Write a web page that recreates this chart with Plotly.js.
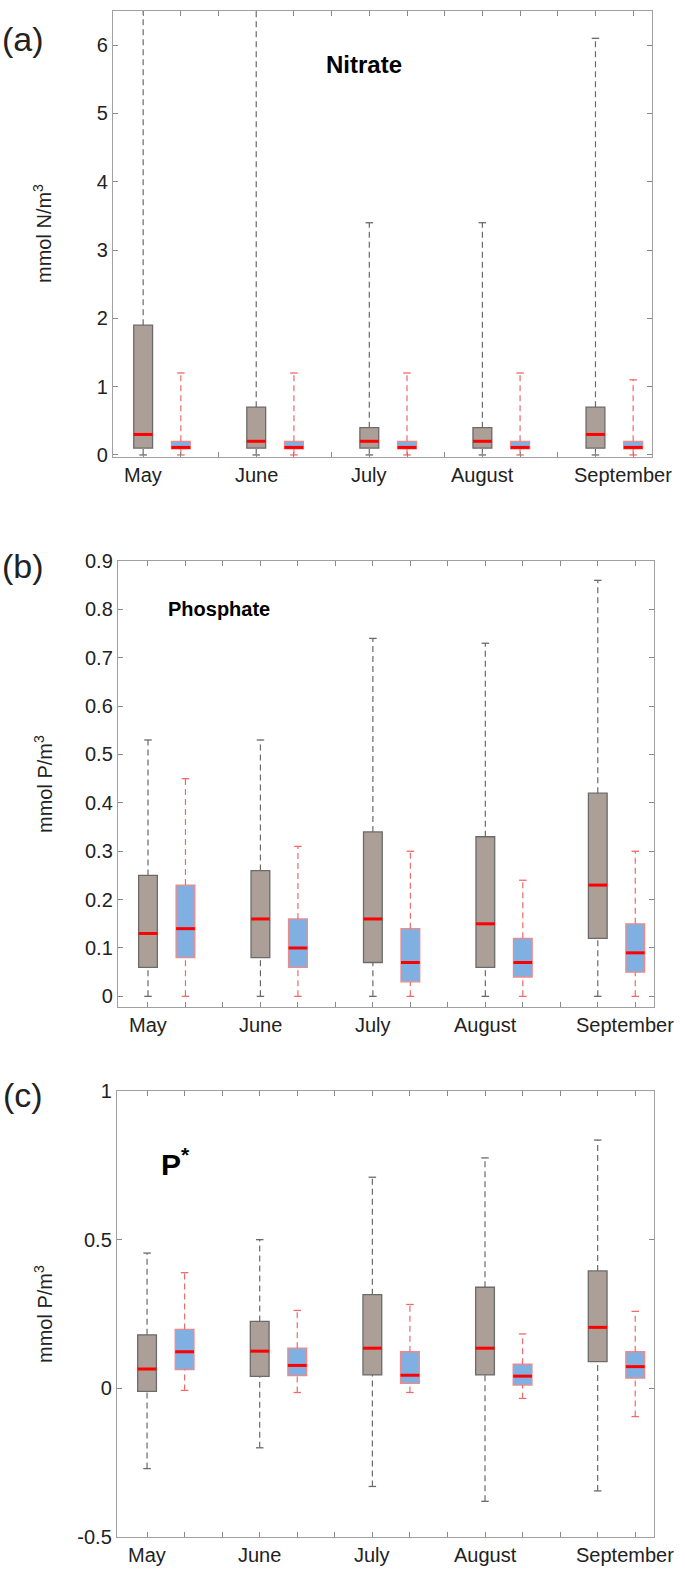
<!DOCTYPE html>
<html>
<head>
<meta charset="utf-8">
<script src="https://cdn.plot.ly/plotly-3.0.1.min.js"></script>
<style>
  html, body { margin: 0; padding: 0; background: #fff; }
  #chart { width: 685px; height: 1577px; }
</style>
</head>
<body>
<div id="chart"></div>
<script>
// months along the x axis
const months = ['May', 'June', 'July', 'August', 'September'];

// box statistics per month: [lower whisker, q1, median, q3, upper whisker]
const nitrateGrey = [[0, 0.1, 0.3, 1.9, 7.5], [0, 0.1, 0.2, 0.7, 7.0], [0, 0.1, 0.2, 0.4, 3.4], [0, 0.1, 0.2, 0.4, 3.4], [0, 0.1, 0.3, 0.7, 6.1]];
const nitrateBlue = [[0, 0.09, 0.11, 0.2, 1.2], [0, 0.09, 0.11, 0.2, 1.2], [0, 0.09, 0.11, 0.2, 1.2], [0, 0.09, 0.11, 0.2, 1.2], [0, 0.09, 0.11, 0.2, 1.1]];

const phosphateGrey = [[0, 0.06, 0.13, 0.25, 0.53], [0, 0.08, 0.16, 0.26, 0.53], [0, 0.07, 0.16, 0.34, 0.74], [0, 0.06, 0.15, 0.33, 0.73], [0, 0.12, 0.23, 0.42, 0.86]];
const phosphateBlue = [[0, 0.08, 0.14, 0.23, 0.45], [0, 0.06, 0.10, 0.16, 0.31], [0, 0.03, 0.07, 0.14, 0.30], [0, 0.04, 0.07, 0.12, 0.24], [0, 0.05, 0.09, 0.15, 0.30]];

const pstarGrey = [[-0.27, -0.01, 0.065, 0.18, 0.455], [-0.2, 0.04, 0.125, 0.225, 0.5], [-0.33, 0.045, 0.135, 0.315, 0.71], [-0.38, 0.045, 0.135, 0.34, 0.775], [-0.345, 0.09, 0.205, 0.395, 0.835]];
const pstarBlue = [[-0.007, 0.063, 0.123, 0.198, 0.389], [-0.014, 0.043, 0.077, 0.135, 0.262], [-0.014, 0.017, 0.044, 0.123, 0.282], [-0.034, 0.011, 0.041, 0.081, 0.183], [-0.095, 0.034, 0.073, 0.123, 0.259]];

// y tick labels
const nitrateTicks = [0, 1, 2, 3, 4, 5, 6];
const phosphateTicks = [0, 0.1, 0.2, 0.3, 0.4, 0.5, 0.6, 0.7, 0.8, 0.9];
const pstarTicks = [-0.5, 0, 0.5, 1];

const W = 685, H = 1577;
const FONT = 'Liberation Sans, Arial, Helvetica, sans-serif';

const greyStyle = { fill: '#ab9f98', edge: '#6b6b6b', whisker: '#6a6a6a', offset: 0 };
const blueStyle = { fill: '#80b0e2', edge: '#f08a8a', whisker: '#ef6a6a', offset: 1 };

function boxTraces (stats, style, xa, ya) {
  const pos = stats.map((s, i) => 3 * i + 1 + style.offset);
  const wx = [], wy = [], cx = [], cy = [], mx = [], my = [];
  stats.forEach((s, i) => {
    const p = pos[i];
    wx.push(p, p, null, p, p, null);
    wy.push(s[3], s[4], null, s[0], s[1], null);
    cx.push(p - 0.1, p + 0.1, null, p - 0.1, p + 0.1, null);
    cy.push(s[4], s[4], null, s[0], s[0], null);
    mx.push(p - 0.25, p + 0.25, null);
    my.push(s[2], s[2], null);
  });
  const common = { xaxis: xa, yaxis: ya, hoverinfo: 'skip', showlegend: false };
  return [
    Object.assign({
      type: 'scatter', mode: 'lines', x: wx, y: wy,
      line: { color: style.whisker, width: 1.2, dash: '6px,4px' }
    }, common),
    Object.assign({
      type: 'scatter', mode: 'lines', x: cx, y: cy,
      line: { color: style.whisker, width: 1.3 }
    }, common),
    Object.assign({
      type: 'bar', x: pos, base: stats.map(s => s[1]), y: stats.map(s => s[3] - s[1]),
      width: 0.5, marker: { color: style.fill, line: { color: style.edge, width: 1.3 } }
    }, common),
    Object.assign({
      type: 'scatter', mode: 'lines', x: mx, y: my,
      line: { color: '#ff0000', width: 3 }
    }, common)
  ];
}

function xAxis (left, right, anchor) {
  return {
    domain: [left / W, right / W], anchor, range: [0.2, 14.5],
    tickvals: [1, 2, 3, 4, 5, 6, 7, 8, 9, 10, 11, 12, 13, 14],
    showticklabels: false, ticks: 'inside', ticklen: 5, tickcolor: '#888',
    showline: true, linecolor: '#a0a0a0', linewidth: 1.2, mirror: 'ticks',
    showgrid: false, zeroline: false, fixedrange: true
  };
}

function yAxis (top, bottom, range, ticks, anchor) {
  return {
    domain: [1 - bottom / H, 1 - top / H], anchor, range,
    tickvals: ticks, ticktext: ticks.map(String),
    ticks: 'inside', ticklen: 5, tickcolor: '#888',
    tickfont: { family: FONT, size: 20, color: '#222' },
    showline: true, linecolor: '#a0a0a0', linewidth: 1.2, mirror: 'ticks',
    showgrid: false, zeroline: false, fixedrange: true
  };
}

function monthLabels (xa, ya) {
  return months.map((m, i) => ({
    xref: xa, yref: ya + ' domain', x: i === 4 ? 13.72 : 3 * i + 1, y: 0,
    yanchor: 'top', yshift: -5, showarrow: false, text: m,
    font: { family: FONT, size: 20, color: '#222' }
  }));
}

function sideText (text, xpx, ypx, size, angle) {
  return {
    xref: 'paper', yref: 'paper', x: xpx / W, y: 1 - ypx / H,
    xanchor: 'center', yanchor: 'middle', showarrow: false, text, textangle: angle || 0,
    font: { family: FONT, size, color: '#222' }
  };
}

const data = [].concat(
  boxTraces(nitrateGrey, greyStyle, 'x', 'y'),
  boxTraces(nitrateBlue, blueStyle, 'x', 'y'),
  boxTraces(phosphateGrey, greyStyle, 'x2', 'y2'),
  boxTraces(phosphateBlue, blueStyle, 'x2', 'y2'),
  boxTraces(pstarGrey, greyStyle, 'x3', 'y3'),
  boxTraces(pstarBlue, blueStyle, 'x3', 'y3')
);

const annotations = [].concat(
  monthLabels('x', 'y'), monthLabels('x2', 'y2'), monthLabels('x3', 'y3'),
  [
    sideText('(a)', 23, 39, 34), sideText('(b)', 23, 566, 34), sideText('(c)', 23, 1095, 34),
    sideText('mmol N/m<sup>3</sup>', 43, 234, 20, -90),
    sideText('mmol P/m<sup>3</sup>', 43, 784, 20, -90),
    sideText('mmol P/m<sup>3</sup>', 43, 1314, 20, -90),
    { xref: 'x', yref: 'y', x: 6.85, y: 5.72, showarrow: false, text: '<b>Nitrate</b>',
      font: { family: FONT, size: 24, color: '#000' } },
    { xref: 'x2', yref: 'y2', x: 2.9, y: 0.8, showarrow: false, text: '<b>Phosphate</b>',
      font: { family: FONT, size: 20, color: '#000' } },
    { xref: 'x3', yref: 'y3', x: 1.75, y: 0.76, showarrow: false, text: '<b>P<sup>*</sup></b>',
      font: { family: FONT, size: 30, color: '#000' } }
  ]
);

const layout = {
  width: W, height: H,
  margin: { l: 0, r: 0, t: 0, b: 0 },
  paper_bgcolor: '#fff', plot_bgcolor: '#fff',
  barmode: 'overlay', showlegend: false,
  xaxis: xAxis(113, 652, 'y'),
  yaxis: yAxis(11, 457, [-0.03, 6.5], nitrateTicks, 'x'),
  xaxis2: xAxis(118, 654, 'y2'),
  yaxis2: yAxis(561, 1007, [-0.022, 0.9], phosphateTicks, 'x2'),
  xaxis3: xAxis(117, 654, 'y3'),
  yaxis3: yAxis(1091, 1537, [-0.5, 1], pstarTicks, 'x3'),
  annotations
};

Plotly.newPlot('chart', data, layout, { staticPlot: true, displayModeBar: false });
</script>
</body>
</html>
